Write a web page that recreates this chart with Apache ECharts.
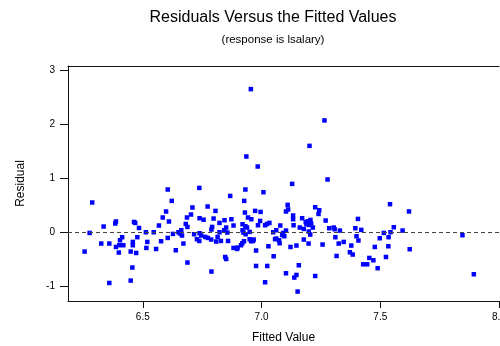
<!DOCTYPE html>
<html>
<head>
<meta charset="utf-8">
<script src="https://cdn.jsdelivr.net/npm/echarts@6/dist/echarts.min.js"></script>
<style>
  html, body { margin: 0; padding: 0; background: #fff; }
  #chart { width: 500px; height: 346px; }
</style>
</head>
<body>
<div id="chart"></div>
<script>
// Fitted values (x) and residuals (y) of the lsalary regression
const fittedValues = [
  6.287, 6.335, 6.384, 6.387, 6.463, 6.276, 6.325, 6.359, 6.255, 6.413,
  6.404, 6.387, 6.418, 6.401, 6.399, 6.458, 6.458, 6.449, 6.456, 6.449,
  6.359, 6.605, 6.622, 6.738, 6.598, 6.584, 6.610, 6.709, 6.703, 6.686,
  6.739, 6.756, 6.468, 6.484, 6.568, 6.681, 6.688, 6.513, 6.546, 6.627,
  6.650, 6.662, 6.657, 6.665, 6.716, 6.739, 6.746, 6.477, 6.605, 6.577,
  6.519, 6.728, 6.738, 6.671, 6.515, 6.556, 6.472, 6.639, 6.688, 6.932,
  7.008, 6.868, 6.927, 6.773, 6.806, 6.930, 6.973, 6.996, 6.798, 6.844,
  6.873, 6.943, 6.957, 6.994, 6.823, 6.851, 6.843, 6.856, 6.882, 6.920,
  6.932, 6.939, 6.985, 7.015, 7.023, 7.033, 6.792, 6.789, 6.823, 6.920,
  6.924, 6.933, 6.950, 7.049, 6.763, 6.774, 6.788, 6.815, 6.809, 6.829,
  6.859, 6.950, 6.956, 6.964, 6.967, 6.926, 6.919, 6.914, 6.882, 6.897,
  6.899, 6.977, 7.029, 7.057, 7.051, 6.847, 6.851, 6.977, 7.024, 6.789,
  7.015, 7.129, 7.278, 7.110, 7.103, 7.112, 7.133, 7.133, 7.226, 7.243,
  7.240, 7.171, 7.186, 7.196, 7.206, 7.209, 7.189, 7.200, 7.270, 7.079,
  7.135, 7.161, 7.178, 7.216, 7.285, 7.304, 7.308, 7.330, 7.062, 7.103,
  7.091, 7.087, 7.096, 7.199, 7.205, 7.062, 7.074, 7.076, 7.311, 7.178,
  7.198, 7.257, 7.325, 7.346, 7.147, 7.122, 7.316, 7.157, 7.103, 7.147,
  7.138, 7.226, 7.152, 7.541, 7.621, 7.406, 7.395, 7.420, 7.557, 7.594,
  7.515, 7.543, 7.400, 7.408, 7.498, 7.535, 7.378, 7.477, 7.534, 7.624,
  7.372, 7.384, 7.524, 7.454, 7.471, 7.428, 7.445, 7.489, 7.846, 7.894,
  6.955, 6.936, 7.265, 7.202, 6.984
];

const residuals = [
  0.549, 0.105, 0.161, 0.198, 0.190, -0.013, -0.209, -0.209, -0.357, -0.092,
  -0.148, -0.272, -0.240, -0.240, -0.375, -0.179, -0.240, -0.357, -0.652, -0.893,
  -0.937, 0.789, 0.579, 0.819, 0.383, 0.272, 0.198, 0.457, 0.327, 0.272,
  0.259, 0.231, 0.172, 0.079, 0.124, 0.153, 0.098, 0.000, 0.000, -0.031,
  0.000, 0.037, -0.024, -0.061, -0.037, -0.018, -0.061, -0.092, -0.105, -0.166,
  -0.179, -0.129, -0.161, -0.209, -0.290, -0.309, -0.383, -0.333, -0.560, 0.789,
  0.739, 0.671, 0.579, 0.475, 0.394, 0.364, 0.394, 0.375, 0.253, 0.222,
  0.240, 0.272, 0.240, 0.209, 0.172, 0.087, 0.037, -0.006, 0.124, 0.148,
  0.111, 0.087, 0.129, 0.129, 0.153, 0.172, 0.098, 0.050, 0.000, 0.037,
  -0.006, -0.037, 0.006, 0.000, -0.087, -0.105, -0.135, -0.087, -0.172, -0.161,
  -0.161, -0.129, -0.166, -0.161, -0.135, -0.166, -0.203, -0.240, -0.290, -0.309,
  -0.283, -0.338, -0.259, -0.129, -0.444, -0.457, -0.494, -0.623, -0.623, -0.726,
  -0.924, 0.893, 0.974, 0.505, 0.383, 0.420, 0.309, 0.240, 0.462, 0.407,
  0.338, 0.259, 0.190, 0.203, 0.227, 0.161, 0.148, 0.135, 0.216, 0.124,
  0.129, 0.087, 0.061, 0.087, 0.074, 0.087, 0.055, 0.031, 0.037, 0.031,
  -0.013, -0.050, -0.074, 0.013, -0.043, -0.116, -0.148, -0.203, -0.092, -0.135,
  -0.209, -0.227, -0.209, -0.179, -0.246, -0.272, -0.438, -0.610, -0.758, -0.789,
  -0.837, -0.808, -1.096, 0.518, 0.383, 0.246, 0.074, 0.043, 0.092, 0.031,
  -0.013, 0.000, -0.074, -0.153, -0.111, -0.092, -0.246, -0.272, -0.259, -0.314,
  -0.370, -0.412, -0.457, -0.475, -0.518, -0.592, -0.592, -0.665, -0.055, -0.776,
  2.643, 1.399, 2.065, 1.595, 1.214
];

// Tick positions shown on each axis
const xTicks = [6.5, 7.0, 7.5, 8.0];
const yTicks = [-1, 0, 1, 2, 3];

const points = fittedValues.map((x, i) => [x, residuals[i]]);

const FONT = '"Liberation Sans", Arial, sans-serif';
const INK = '#000';

const chart = echarts.init(document.getElementById('chart'), null, { renderer: 'canvas' });

chart.setOption({
  backgroundColor: '#fff',
  animation: false,
  title: [
    {
      text: 'Residuals Versus the Fitted Values',
      left: 268, top: 5, textAlign: 'center',
      textStyle: { fontFamily: FONT, fontSize: 16, fontWeight: 'normal', color: INK }
    },
    {
      text: '(response is lsalary)',
      left: 268, top: 29, textAlign: 'center',
      textStyle: { fontFamily: FONT, fontSize: 11.5, fontWeight: 'normal', color: INK }
    }
  ],
  grid: { left: 68, right: 1, top: 66, bottom: 45, containLabel: false, outerBoundsMode: 'none' },
  xAxis: [
    {
      type: 'value',
      min: 6.185, max: 8.0,
      name: 'Fitted Value',
      nameLocation: 'middle',
      nameGap: 31,
      nameTextStyle: { fontFamily: FONT, fontSize: 12, color: INK },
      axisLine: { show: true, onZero: false, lineStyle: { color: '#111', width: 1 } },
      axisTick: { show: true, length: 7, customValues: xTicks, lineStyle: { color: '#111' } },
      axisLabel: {
        customValues: xTicks, margin: 11,
        fontFamily: FONT, fontSize: 10, color: INK,
        formatter: v => v.toFixed(1)
      },
      splitLine: { show: false }
    },
    {
      type: 'value',
      position: 'top',
      min: 6.185, max: 8.0,
      axisLine: { show: true, onZero: false, lineStyle: { color: '#111', width: 1 } },
      axisTick: { show: false },
      axisLabel: { show: false },
      splitLine: { show: false }
    }
  ],
  yAxis: {
    type: 'value',
    min: -1.27, max: 3.07,
    name: 'Residual',
    nameLocation: 'middle',
    nameGap: 41,
    nameRotate: 90,
    nameTextStyle: { fontFamily: FONT, fontSize: 12, color: INK },
    axisLine: { show: true, onZero: false, lineStyle: { color: '#111', width: 1 } },
    axisTick: { show: true, length: 8, customValues: yTicks, lineStyle: { color: '#111' } },
    axisLabel: {
      customValues: yTicks, margin: 13,
      fontFamily: FONT, fontSize: 10, color: INK
    },
    splitLine: { show: false }
  },
  series: [
    {
      type: 'scatter',
      data: points,
      symbol: 'rect',
      symbolSize: 4.5,
      itemStyle: { color: '#0000ff', opacity: 1 },
      markLine: {
        silent: true,
        symbol: ['none', 'none'],
        label: { show: false },
        lineStyle: { type: [4, 3], color: '#444', width: 1 },
        data: [{ yAxis: 0 }]
      },
      z: 3
    }
  ]
});
</script>
</body>
</html>
